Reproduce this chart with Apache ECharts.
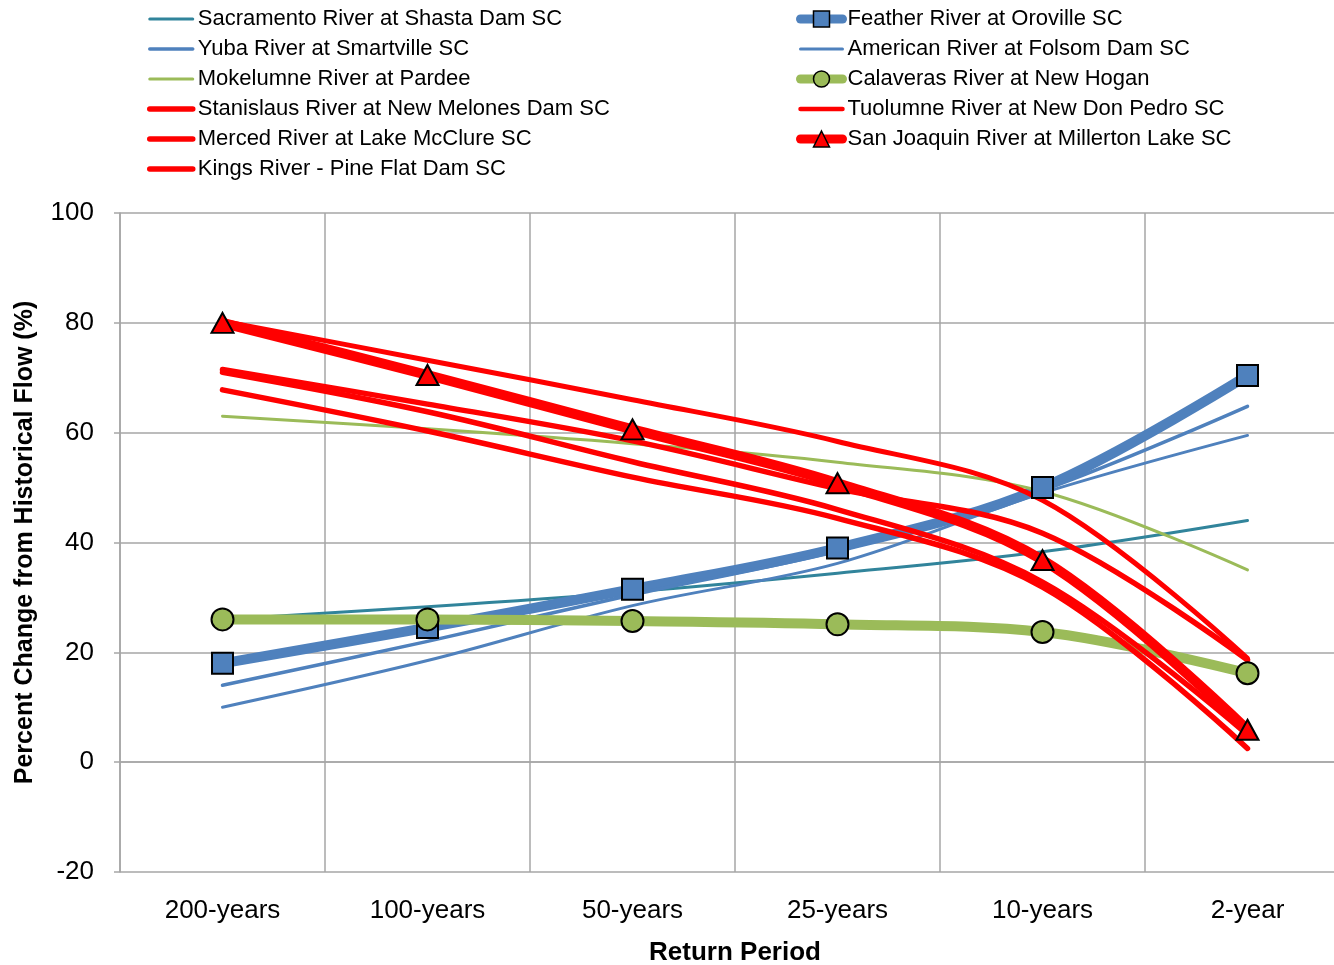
<!DOCTYPE html>
<html>
<head>
<meta charset="utf-8">
<title>Percent Change from Historical Flow</title>
<script src="https://cdn.jsdelivr.net/npm/echarts@6/dist/echarts.min.js"></script>
<style>
    html, body { margin: 0; padding: 0; background: #fff; }
    #echarts_flow { width: 1334px; height: 965px; }
</style>
</head>
<body>
<div id="echarts_flow"></div>
<script>
var periods = ['200-years', '100-years', '50-years', '25-years', '10-years', '2-year'];

var sacramento = [26, 28.3, 31, 34.4, 38.3, 44];
var feather = [18, 24.5, 31.5, 39, 50, 70.4];
var yuba = [14, 22, 30.5, 38.5, 49.5, 64.8];
var american = [10, 18.5, 28.5, 36.2, 49, 59.5];
var mokelumne = [63, 60.7, 58, 54.6, 49.3, 35];
var calaveras = [26, 26, 25.7, 25.1, 23.7, 16.2];
var stanislaus = [71.5, 65.2, 58.5, 49.8, 41.7, 18.6];
var tuolumne = [80.3, 73.2, 66, 58.4, 47.7, 18.9];
var merced = [71, 63.8, 54.7, 46, 32.8, 5];
var sanJoaquin = [80, 70.5, 60.6, 50.8, 36.8, 5.9];
var kings = [67.8, 60.3, 51.9, 44.4, 31.9, 2.5];

var dom = document.getElementById('echarts_flow');
var myChart = echarts.init(dom);
var option = null;

var teal = '#31849B', blue = '#4F81BD', green = '#9BBB59', red = '#FF0000';
var gridColor = '#A6A6A6';

function river(name, data, color, width, symbol, symbolSize) {
    return {
        name: name,
        type: 'line',
        data: data,
        smooth: 0.35,
        symbol: symbol || 'none',
        symbolSize: symbolSize || 0,
        showSymbol: !!symbol,
        lineStyle: { color: color, width: width, cap: 'round', join: 'round' },
        itemStyle: { color: color, borderColor: '#000', borderWidth: 2 },
        emphasis: { disabled: true }
    };
}

// legend entry: plain line unless the series has a marker
function key(name, width, marker) {
    var item = { name: name, lineStyle: { width: width, cap: 'round' } };
    if (!marker) {
        item.itemStyle = { opacity: 0, borderWidth: 0 };
    } else {
        item.itemStyle = { borderColor: '#000', borderWidth: 1.5 };
    }
    return item;
}

var legendText = { fontFamily: 'Liberation Sans', fontSize: 22, color: '#000', lineHeight: 22 };

option = {
    animation: false,
    backgroundColor: '#fff',
    textStyle: { fontFamily: 'Liberation Sans' },
    legend: [
        {
            data: [
                key('Sacramento River at Shasta Dam SC', 3),
                key('Yuba River at Smartville SC', 3.5),
                key('Mokelumne River at Pardee', 3),
                key('Stanislaus River at New Melones Dam SC', 5.5),
                key('Merced River at Lake McClure SC', 5.5),
                key('Kings River - Pine Flat Dam SC', 5.5)
            ],
            orient: 'vertical',
            left: 147,
            top: 8,
            padding: 0,
            itemWidth: 43,
            itemHeight: 20,
            itemGap: 8,
            textStyle: legendText
        },
        {
            data: [
                key('Feather River at Oroville SC', 9, true),
                key('American River at Folsom Dam SC', 3),
                key('Calaveras River at New Hogan', 9, true),
                key('Tuolumne River at New Don Pedro SC', 4.5),
                key('San Joaquin River at Millerton Lake SC', 9, true)
            ],
            orient: 'vertical',
            left: 796,
            top: 8,
            padding: 0,
            itemWidth: 42,
            itemHeight: 20,
            itemGap: 8,
            textStyle: legendText
        }
    ],
    grid: {
        left: 120,
        top: 213,
        width: 1230,
        bottom: 93,
        containLabel: false,
        outerBoundsMode: 'none'
    },
    xAxis: {
        type: 'category',
        data: periods,
        boundaryGap: true,
        name: 'Return Period',
        nameLocation: 'middle',
        nameGap: 68,
        nameTextStyle: { fontSize: 26, fontWeight: 'bold', color: '#000' },
        axisLine: { lineStyle: { color: gridColor, width: 1.5 } },
        axisTick: { length: 8, lineStyle: { color: gridColor, width: 1.5 } },
        axisLabel: { fontSize: 26, color: '#000', margin: 26 },
        splitLine: { show: true, lineStyle: { color: gridColor, width: 1.5 } }
    },
    yAxis: {
        type: 'value',
        min: -20,
        max: 100,
        interval: 20,
        name: 'Percent Change from Historical Flow (%)',
        nameLocation: 'middle',
        nameGap: 82,
        nameTextStyle: { fontSize: 25, fontWeight: 'bold', color: '#000' },
        axisLine: { show: true, lineStyle: { color: gridColor, width: 1.5 } },
        axisTick: { show: true, length: 6, lineStyle: { color: gridColor, width: 1.5 } },
        axisLabel: { fontSize: 26, color: '#000', margin: 26 },
        splitLine: { lineStyle: { color: gridColor, width: 1.5 } }
    },
    series: [
        river('Sacramento River at Shasta Dam SC', sacramento, teal, 3),
        river('Feather River at Oroville SC', feather, blue, 10, 'rect', 21),
        river('Yuba River at Smartville SC', yuba, blue, 3.5),
        river('American River at Folsom Dam SC', american, blue, 3),
        river('Mokelumne River at Pardee', mokelumne, green, 3),
        river('Calaveras River at New Hogan', calaveras, green, 10, 'circle', 22),
        river('Stanislaus River at New Melones Dam SC', stanislaus, red, 5.5),
        river('Tuolumne River at New Don Pedro SC', tuolumne, red, 5),
        river('Merced River at Lake McClure SC', merced, red, 5.5),
        river('San Joaquin River at Millerton Lake SC', sanJoaquin, red, 10, 'triangle', [22, 20]),
        river('Kings River - Pine Flat Dam SC', kings, red, 5.5)
    ]
};

if (option && typeof option === 'object') {
    myChart.setOption(option, true);
}
</script>
</body>
</html>
